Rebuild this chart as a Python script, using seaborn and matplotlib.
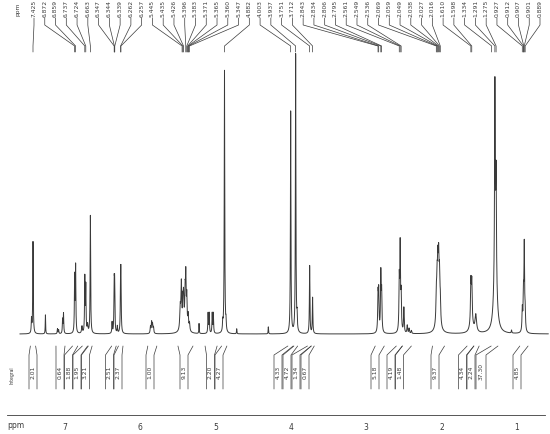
import numpy as np
import pandas as pd
import seaborn as sns
import matplotlib.pyplot as plt
from matplotlib.ticker import MultipleLocator

# --- spectrum peaks: shift (ppm), height above baseline, half width (ppm)
peak_ppm = [7.445, 7.425, 7.26, 7.10, 7.085, 7.032, 7.020,
            6.872, 6.859, 6.775, 6.737, 6.724, 6.700, 6.663,
            6.375, 6.347, 6.341, 6.305, 6.262, 6.257,
            5.865, 5.850, 5.838, 5.825,
            5.470, 5.455, 5.435, 5.426, 5.405, 5.396, 5.383, 5.365, 5.347, 5.42,
            5.22, 5.100, 5.085, 5.045, 5.030,
            4.905, 4.882, 4.862, 4.72, 4.30,
            4.003, 3.937, 3.918, 3.751, 3.712,
            2.843, 2.834, 2.806, 2.795,
            2.561, 2.549, 2.536, 2.500, 2.455, 2.430, 2.400,
            2.069, 2.059, 2.049, 2.038, 2.027, 2.016, 2.045,
            1.610, 1.598, 1.545, 1.60,
            1.291, 1.275, 1.285,
            1.07, 0.927, 0.912, 0.901, 0.889]
peak_height = [14, 92, 19, 5, 4, 14, 20,
               56, 66, 7, 55, 46, 8, 118,
               11, 45, 45, 7, 48, 48,
               7, 11, 9, 6,
               22, 44, 22, 26, 30, 48, 30, 15, 8, 10,
               10, 20, 20, 20, 20,
               9, 263, 9, 5, 7,
               222, 279, 14, 68, 36,
               36, 38, 58, 38,
               50, 84, 35, 25, 8, 5, 3,
               25, 35, 45, 50, 40, 22, 18,
               42, 40, 17, 8,
               185, 100, 68,
               3, 22, 35, 85, 18]
peak_hwhm = [0.004, 0.004, 0.003, 0.004, 0.004, 0.004, 0.004,
             0.004, 0.004, 0.006, 0.004, 0.004, 0.006, 0.004,
             0.004, 0.004, 0.004, 0.004, 0.004, 0.004,
             0.005, 0.005, 0.005, 0.005,
             0.007, 0.006, 0.005, 0.005, 0.005, 0.005, 0.005, 0.006, 0.006, 0.03,
             0.003, 0.004, 0.004, 0.004, 0.004,
             0.004, 0.004, 0.004, 0.003, 0.003,
             0.004, 0.004, 0.004, 0.004, 0.004,
             0.005, 0.005, 0.005, 0.005,
             0.005, 0.005, 0.005, 0.005, 0.005, 0.005, 0.005,
             0.006, 0.006, 0.006, 0.006, 0.006, 0.006, 0.025,
             0.006, 0.006, 0.012, 0.03,
             0.005, 0.005, 0.022,
             0.004, 0.005, 0.005, 0.005, 0.005]

# --- peak pick labels
label_ppm = [7.425, 6.872, 6.859, 6.737, 6.724, 6.663, 6.347, 6.344, 6.339,
             6.262, 6.257, 5.445, 5.435, 5.426, 5.396, 5.383, 5.371, 5.365,
             5.360, 5.347, 4.882, 4.003, 3.937, 3.751, 3.712, 2.843, 2.834,
             2.806, 2.795, 2.561, 2.549, 2.536, 2.069, 2.059, 2.049, 2.038,
             2.027, 2.016, 1.610, 1.598, 1.334, 1.291, 1.275, 0.927, 0.912,
             0.907, 0.901, 0.889]

# --- integrals
integral_values = ["2.01", "0.64", "1.88", "1.95", "3.21", "2.51", "2.37",
                   "1.00", "9.13", "2.20", "4.27", "4.33", "4.72", "1.34",
                   "0.67", "5.18", "4.19", "1.48", "9.37", "4.34", "2.24",
                   "37.30", "4.85"]
integral_from = [7.46, 7.12, 6.90, 6.77, 6.69, 6.38, 6.29, 5.90, 5.50, 5.14,
                 4.92, 4.04, 3.96, 3.78, 3.73, 2.88, 2.60, 2.52, 2.12, 1.66,
                 1.57, 1.34, 0.96]
integral_to = [7.39, 7.00, 6.83, 6.70, 6.64, 6.32, 6.23, 5.78, 5.30, 4.98,
               4.85, 3.97, 3.91, 3.73, 3.69, 2.76, 2.52, 2.40, 1.96, 1.57,
               1.50, 1.25, 0.85]
integral_box_px = [33, 60, 68.5, 77, 85.5, 109.5, 118, 150, 184, 210.5, 219,
                   278, 287, 296, 305, 375, 391, 399.5, 435, 462.5, 471,
                   481, 517]


def px2ppm(px):
    return 7 - (px - 65) / 75.3


def ypx(py):
    return 434 - py


ink = "#3a3a3a"

sns.set_style("white")
plt.rcParams["font.family"] = ["DejaVu Sans"]

fig = plt.figure(figsize=(5.5, 4.34), dpi=100)
ax = fig.add_axes([0, 0, 1, 1])
ax.set_xlim(px2ppm(0), px2ppm(550))
ax.set_ylim(0, 434)

# spectrum
grid = np.arange(7.60, 0.58, -0.0005)
inten = np.zeros_like(grid)
for p, h, w in zip(peak_ppm, peak_height, peak_hwhm):
    inten += h * w ** 2 / (w ** 2 + (grid - p) ** 2)
df = pd.DataFrame({"ppm": grid, "y": ypx(334) + inten})
sns.lineplot(data=df, x="ppm", y="y", ax=ax, estimator=None, sort=False,
             color=ink, linewidth=0.7)

# peak labels with leader lines
n = len(label_ppm)
for i, lp in enumerate(label_ppm):
    xl = px2ppm(34 + i * (540 - 34) / (n - 1))
    ax.text(xl, ypx(17), f"{lp:.3f}", rotation=90, ha="center", va="bottom",
            fontsize=4.3, color=ink)
    ax.plot([xl, xl, lp, lp], [ypx(18), ypx(25), ypx(46), ypx(52)],
            color=ink, linewidth=0.5)
ax.text(px2ppm(18), ypx(16), "ppm", rotation=90, ha="center", va="bottom",
        fontsize=4.3, color=ink)

# integral brackets
for val, a, b, c in zip(integral_values, integral_from, integral_to,
                        integral_box_px):
    hw = 5 if len(val) > 4 else 4
    bl, br = px2ppm(c - hw), px2ppm(c + hw)
    ax.plot([a, bl, bl], [ypx(346), ypx(355), ypx(389)], color=ink, linewidth=0.5)
    ax.plot([b, br, br], [ypx(346), ypx(355), ypx(389)], color=ink, linewidth=0.5)
    ax.text(px2ppm(c), ypx(372), val, rotation=90, ha="center", va="center",
            fontsize=4.3, color=ink)
ax.text(px2ppm(12), ypx(375), "Integral", rotation=90, ha="center",
        va="center", fontsize=3.3, color=ink)

# ppm axis
for s in ["top", "left", "right"]:
    ax.spines[s].set_visible(False)
ax.spines["bottom"].set_position(("data", ypx(415)))
ax.spines["bottom"].set_bounds(7.77, 0.62)
ax.spines["bottom"].set_color(ink)
ax.spines["bottom"].set_linewidth(0.6)
ax.set_xticks([7, 6, 5, 4, 3, 2, 1])
ax.set_xticklabels(["7", "6", "5", "4", "3", "2", "1"])
ax.xaxis.set_minor_locator(MultipleLocator(0.25))
ax.tick_params(axis="x", which="major", direction="out", length=4, width=0.6,
               color=ink, labelsize=5.5, labelcolor=ink, pad=2)
ax.tick_params(axis="x", which="minor", direction="out", length=2, width=0.5,
               color=ink)
ax.set_yticks([])
ax.set_xlabel("")
ax.set_ylabel("")
ax.text(px2ppm(7), ypx(425), "ppm", ha="left", va="center", fontsize=5.5,
        color=ink)

fig.savefig("out.png", dpi=100)
